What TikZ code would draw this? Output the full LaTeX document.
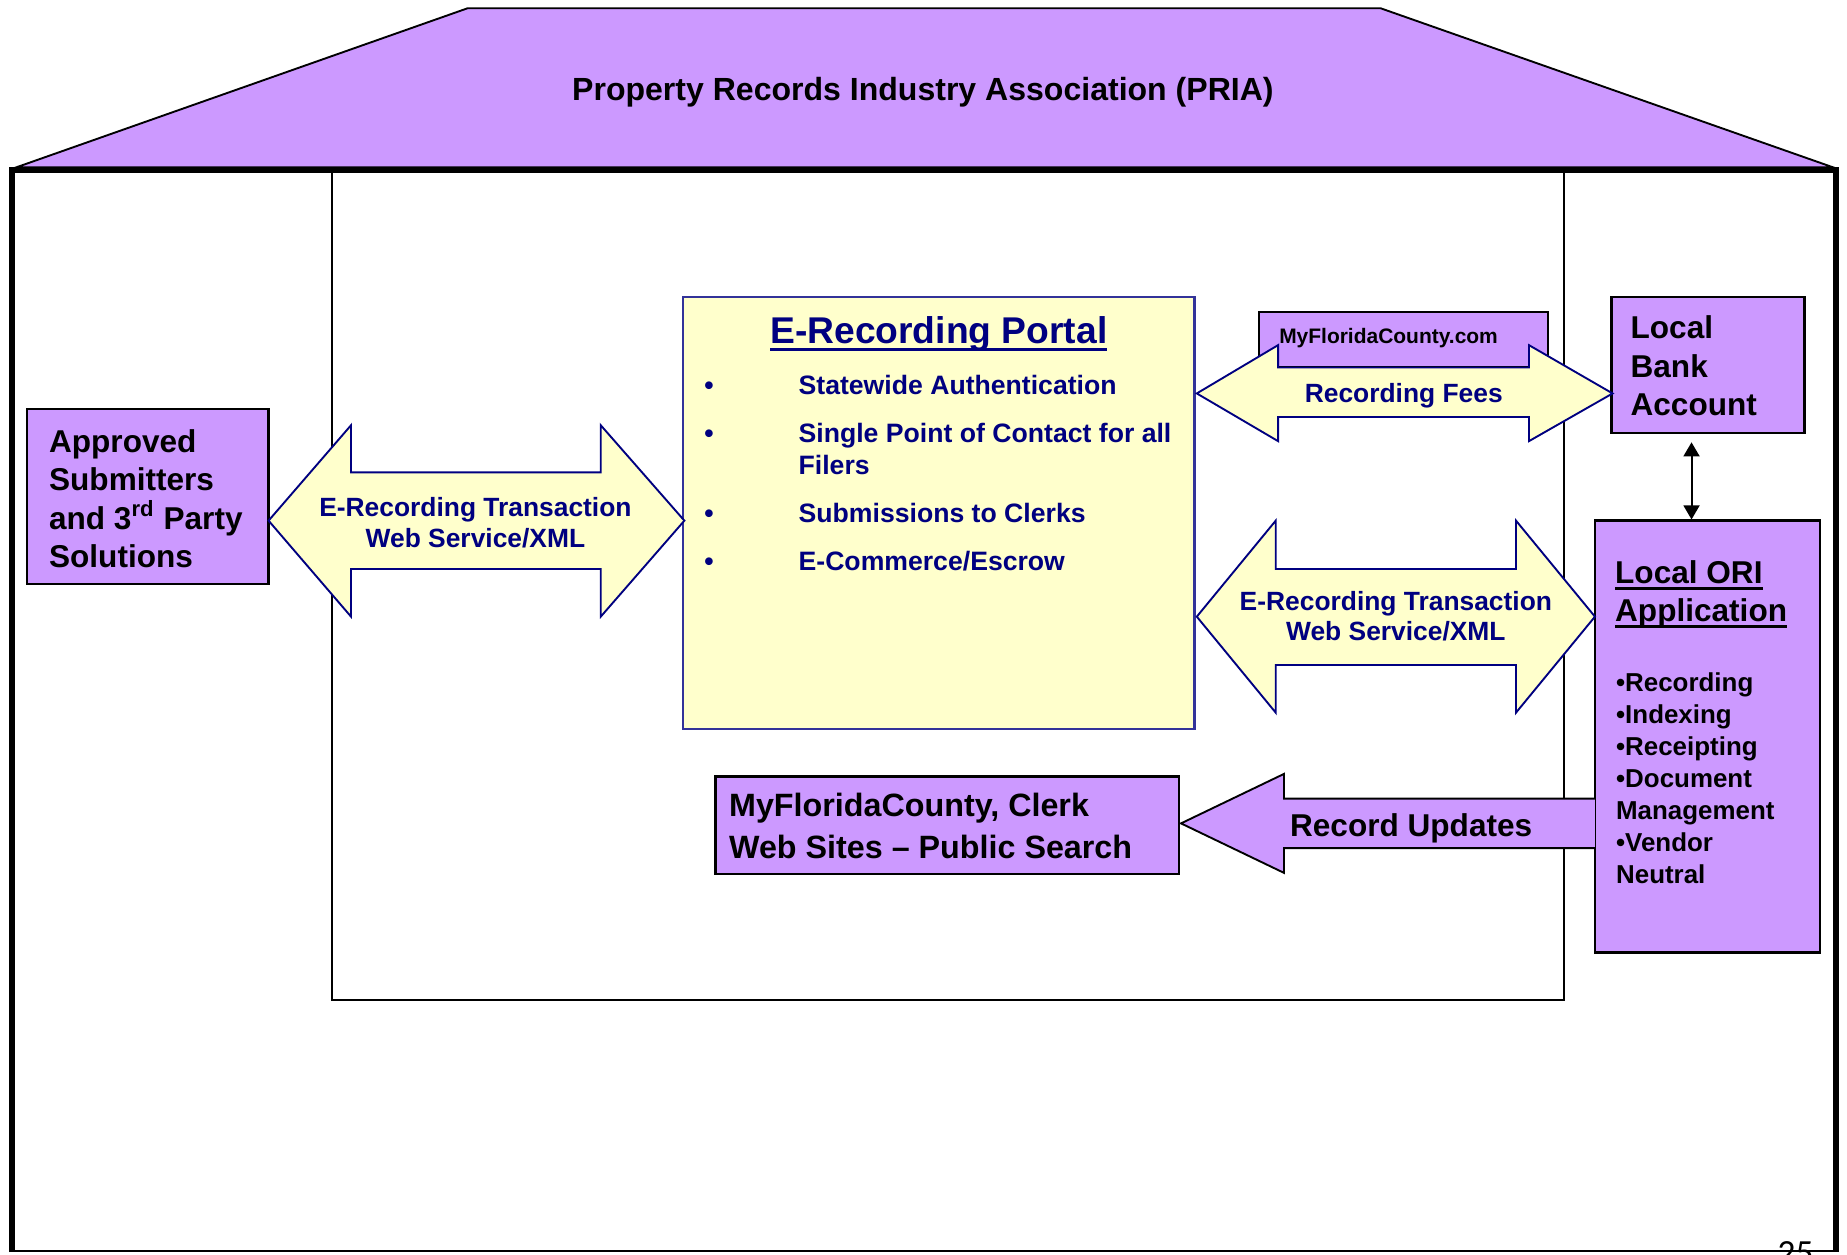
\documentclass[tikz,border=0pt]{standalone}
\usepackage{fontspec}
\setmainfont{Liberation Sans}
\newfontfamily\pagenumfont{Carlito}
\usetikzlibrary{arrows.meta,fit}

\definecolor{lilac}{HTML}{CC99FF}
\definecolor{cream}{HTML}{FFFFCC}
\definecolor{navyink}{HTML}{000080}
\definecolor{portalrim}{HTML}{333399}

% bold text at a given size / baseline skip
\newcommand{\fs}[2]{\fontsize{#1}{#2}\selectfont\bfseries}
% underline: text, distance of the rule bottom below the baseline, rule thickness
\newcommand{\ulword}[3]{{\setbox0=\hbox{#1}\rlap{\rule[-#2]{\wd0}{#3}}\box0}}

\tikzset{
  lilacbox/.style={draw=black, line width=1pt, fill=lilac, inner sep=0pt},
  portalbox/.style={draw=portalrim, line width=0.9pt, fill=cream, inner sep=0pt},
  lanebox/.style={draw=black, line width=0.75pt, inner sep=0pt},
  creamarrow/.style={draw=navyink, line width=0.8pt, fill=cream, line join=miter},
  lilacarrow/.style={draw=black, line width=0.8pt, fill=lilac, line join=miter},
  txt/.style={inner sep=0pt, outer sep=0pt, align=left},
  bigblack/.style={txt, anchor=north west, font={\fs{13.4}{16.2}}},
  arrowtxt/.style={txt, align=center, text=navyink, font={\fs{11.2}{12.9}}},
  portalitem/.style={txt, anchor=north west, text=navyink, font={\fs{11.3}{13.6}}},
  vlink/.style={line width=0.85pt, {Triangle[width=6.8pt,length=6pt]}-{Triangle[width=6.8pt,length=6pt]}},
}

\begin{document}
\begin{tikzpicture}[x=0.5pt,y=-0.5pt]
\useasboundingbox (0,0) rectangle (1568,1065);
\clip (0,0) rectangle (1568,1065);
\fill[white] (0,0) rectangle (1568,1065);

% roof
\filldraw[fill=lilac, draw=black, line width=0.8pt, line join=miter]
  (397,7) -- (1172,7) -- (1556,142) -- (14,142) -- cycle;
\node[txt, anchor=base, font={\fs{13.6}{16}}] (pria) at (783.5,85.7)
  {Property Records Industry Association (PRIA)};

% inner lane
\node[lanebox, fit={(282,145) (1328,849)}] (lane) {};

% outer walls
\draw[line width=2.5pt, line join=miter] (10.5,1063) -- (10.5,144) -- (1559,144) -- (1559,1063);
\draw[line width=0.6pt] (10.5,1062) -- (1559,1062);

% boxes
\node[lilacbox, fit={(23,347) (228,496)}] (appr) {};
\node[portalbox, fit={(580,252) (1014,619)}] (portal) {};
\node[lilacbox, fit={(1069,265) (1314,312)}] (mfcweb) {};
\node[lilacbox, fit={(1368,252) (1532,367.5)}] (bank) {};
\node[lilacbox, fit={(1354,442) (1545,808.7)}] (ori) {};
\node[lilacbox, fit={(607.5,659.3) (1001,742.2)}] (clerk) {};

% block arrows
\draw[creamarrow] (228,442) -- (298,361) -- (298,401) -- (510,401) -- (510,361)
  -- (581,442) -- (510,523.5) -- (510,483) -- (298,483) -- (298,523.5) -- cycle;
\draw[creamarrow] (1016,334) -- (1085,293) -- (1085,312) -- (1298,312) -- (1298,293)
  -- (1369,334) -- (1298,374.5) -- (1298,354) -- (1085,354) -- (1085,374.5) -- cycle;
\draw[creamarrow] (1016,523.5) -- (1083,442) -- (1083,483) -- (1287,483) -- (1287,442)
  -- (1354,523.5) -- (1287,605) -- (1287,564.5) -- (1083,564.5) -- (1083,605) -- cycle;
\draw[lilacarrow] (1354,678) -- (1090,678) -- (1090,657) -- (1002.6,699) -- (1090,741)
  -- (1090,720) -- (1354,720);

% texts
\node[bigblack] (apprtxt) at (41.7,365)
  {Approved\\Submitters\\and 3\textsuperscript{rd} Party\\Solutions};
\node[arrowtxt, anchor=north] (ltxt) at (403.6,422.6)
  {E-Recording Transaction\\Web Service/XML};

\node[txt, anchor=base, text=navyink, font={\fs{15.8}{19}}] (portaltitle) at (797,292)
  {\ulword{E-Recording Portal}{2.85pt}{1.3pt}};
\node[portalitem] (pi1) at (598,318.6) {\makebox[40pt][l]{•}Statewide Authentication};
\node[portalitem] (pi2) at (598,359.3)
  {\makebox[40pt][l]{•}Single Point of Contact for all\\\hspace*{40pt}Filers};
\node[portalitem] (pi3) at (598,427.2) {\makebox[40pt][l]{•}Submissions to Clerks};
\node[portalitem] (pi4) at (598,467.7) {\makebox[40pt][l]{•}E-Commerce/Escrow};

\node[txt, anchor=base west, font={\fs{8.9}{10}}] (mfctxt) at (1086,292) {MyFloridaCounty.com};
\node[arrowtxt, anchor=base] (feestxt) at (1191.7,341.8) {Recording Fees};

\node[bigblack] (banktxt) at (1384.3,268.3) {Local\\Bank\\Account};
\node[arrowtxt, anchor=north] (rtxt) at (1185,501.8)
  {E-Recording Transaction\\Web Service/XML};

\node[bigblack] (orititle) at (1371.2,476.2)
  {\ulword{Local ORI}{2.55pt}{1.1pt}\\\ulword{Application}{2.55pt}{1.1pt}};
\node[txt, anchor=north west, font={\fs{11}{13.55}}] (orilist) at (1372,571.4)
  {•Recording\\•Indexing\\•Receipting\\•Document\\Management\\•Vendor\\Neutral};

\node[txt, anchor=base, font={\fs{13.4}{16}}] (updtxt) at (1198,710.3) {Record Updates};
\node[txt, anchor=north west, font={\fs{13.7}{17.6}}] (clerktxt) at (619,673.5)
  {MyFloridaCounty, Clerk\\Web Sites -- Public Search};

% bank <-> ORI link
\coordinate (vtop) at ([xshift=-7pt,yshift=-3.5pt]bank.south);
\coordinate (vbot) at (vtop |- ori.north);
\draw[vlink] (vtop) -- (vbot);

% page number, cut by the lower edge
\node[inner sep=0pt, anchor=north east, font={\pagenumfont\fontsize{15}{18}\selectfont}] (pagenum)
  at (1540,1054) {25};
\end{tikzpicture}
\end{document}
